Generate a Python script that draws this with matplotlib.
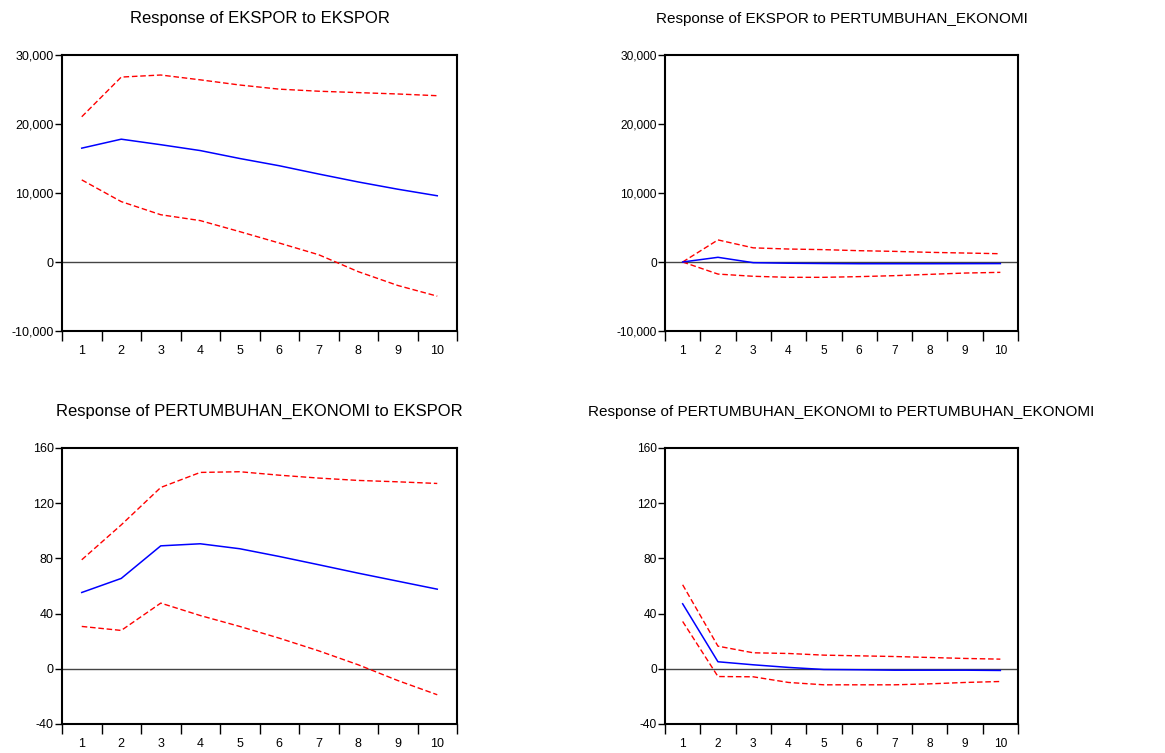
import matplotlib
matplotlib.use("Agg")
import matplotlib.pyplot as plt
from matplotlib.ticker import FuncFormatter, FixedLocator

plt.rcParams['font.family'] = ['Liberation Sans', 'DejaVu Sans']

periode = [1, 2, 3, 4, 5, 6, 7, 8, 9, 10]

# Response of EKSPOR to EKSPOR
eks_eks = [16500, 17800, 17000, 16150, 15000, 13950, 12750, 11600, 10550, 9600]
eks_eks_atas = [21050, 26800, 27100, 26400, 25650, 25050, 24750, 24550, 24350, 24100]
eks_eks_bawah = [11900, 8750, 6850, 6000, 4400, 2750, 1050, -1400, -3400, -4950]

# Response of EKSPOR to PERTUMBUHAN_EKONOMI
eks_pe = [0, 680, -100, -180, -220, -250, -250, -250, -240, -230]
eks_pe_atas = [0, 3200, 2050, 1880, 1790, 1640, 1540, 1400, 1300, 1200]
eks_pe_bawah = [0, -1750, -2070, -2220, -2220, -2120, -1980, -1790, -1600, -1500]

# Response of PERTUMBUHAN_EKONOMI to EKSPOR
pe_eks = [55.3, 65.5, 89.1, 90.6, 87.0, 81.4, 75.4, 69.3, 63.5, 57.7]
pe_eks_atas = [79.0, 104.3, 131.4, 142.3, 142.8, 140.3, 138.2, 136.5, 135.5, 134.3]
pe_eks_bawah = [30.7, 27.8, 47.6, 38.6, 30.7, 22.2, 13.0, 2.9, -8.5, -18.8]

# Response of PERTUMBUHAN_EKONOMI to PERTUMBUHAN_EKONOMI
pe_pe = [47.1, 5.1, 2.9, 1.0, -0.5, -0.7, -1.0, -1.0, -1.0, -1.2]
pe_pe_atas = [60.9, 16.4, 11.6, 11.1, 9.9, 9.4, 8.9, 8.2, 7.5, 7.0]
pe_pe_bawah = [34.3, -5.6, -5.8, -9.9, -11.6, -11.6, -11.6, -10.9, -9.9, -9.2]

W, H = 1165, 753
fig = plt.figure(figsize=(W / 100, H / 100), dpi=100)


def panel(kiri, atas, kanan, bawah, judul, y, y_atas, y_bawah, ylim, yticks, fmt, fs_judul, fs_tick):
    ax = fig.add_axes([kiri / W, 1 - bawah / H, (kanan - kiri) / W, (bawah - atas) / H])
    ax.axhline(0, color='#444444', linewidth=1, zorder=1)
    ax.plot(periode, y_atas, color='red', linewidth=1, linestyle=(0, (4, 2)))
    ax.plot(periode, y_bawah, color='red', linewidth=1, linestyle=(0, (4, 2)))
    ax.plot(periode, y, color='blue', linewidth=1.1)
    ax.set_xlim(0.5, 10.5)
    ax.set_ylim(*ylim)
    ax.set_yticks(yticks)
    ax.yaxis.set_major_formatter(FuncFormatter(fmt))
    ax.set_xticks(periode)
    ax.xaxis.set_minor_locator(FixedLocator([p - 0.5 for p in periode] + [10.5]))
    ax.tick_params(axis='x', which='major', length=0, labelsize=fs_tick, pad=10)
    ax.tick_params(axis='x', which='minor', length=7, width=1, direction='out')
    ax.tick_params(axis='y', length=5, width=1, direction='out', labelsize=fs_tick, pad=1)
    for s in ax.spines.values():
        s.set_linewidth(1.5)
    ax.set_title(judul, fontsize=fs_judul, pad=23)
    return ax


ribu = lambda v, p: f"{int(v):,}"
biasa = lambda v, p: f"{int(v)}"

panel(62, 55, 457, 331, 'Response of EKSPOR to EKSPOR',
      eks_eks, eks_eks_atas, eks_eks_bawah, (-10000, 30000), [-10000, 0, 10000, 20000, 30000], ribu, 12, 9)
panel(665, 55, 1018, 331, 'Response of EKSPOR to PERTUMBUHAN_EKONOMI',
      eks_pe, eks_pe_atas, eks_pe_bawah, (-10000, 30000), [-10000, 0, 10000, 20000, 30000], ribu, 11, 8.6)
panel(62, 448, 457, 724, 'Response of PERTUMBUHAN_EKONOMI to EKSPOR',
      pe_eks, pe_eks_atas, pe_eks_bawah, (-40, 160), [-40, 0, 40, 80, 120, 160], biasa, 12, 9)
panel(665, 448, 1018, 724, 'Response of PERTUMBUHAN_EKONOMI to PERTUMBUHAN_EKONOMI',
      pe_pe, pe_pe_atas, pe_pe_bawah, (-40, 160), [-40, 0, 40, 80, 120, 160], biasa, 11, 8.6)

fig.savefig('out.png', dpi=100)
